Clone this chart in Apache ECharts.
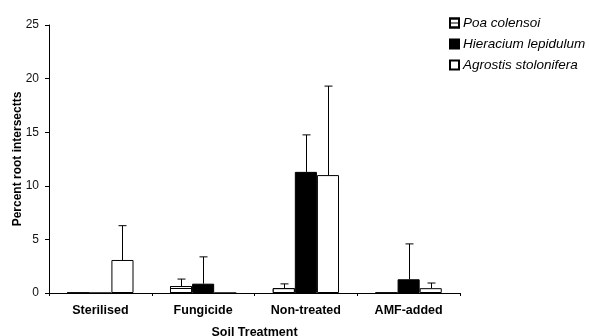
<!DOCTYPE html>
<html>
<head>
<meta charset="utf-8">
<script src="https://cdn.jsdelivr.net/npm/echarts@6/dist/echarts.min.js"></script>
<style>
  html, body { margin: 0; padding: 0; background: #fff; }
  #chart { width: 589px; height: 336px; }
</style>
</head>
<body>
<div id="chart"></div>
<script>
const categories = ['Sterilised', 'Fungicide', 'Non-treated', 'AMF-added'];
const seriesNames = ['Poa colensoi', 'Hieracium lepidulum', 'Agrostis stolonifera'];
const poaValues = [0, 0.65, 0.45, 0];
const poaErrors = [0, 0.65, 0.4, 0];
const hieraciumValues = [0, 0.87, 11.3, 1.28];
const hieraciumErrors = [0, 2.5, 3.45, 3.3];
const agrostisValues = [3.08, 0, 11.0, 0.45];
const agrostisErrors = [3.2, 0, 8.3, 0.48];
const yTicks = [0, 5, 10, 15, 20, 25];

const FONT = '"Liberation Sans", Arial, sans-serif';
const BAR_FRAC = 0.215;

/**
 * 에러바 (위쪽만) 그리기
 */
function errorSeries(values, errors, idx) {
    return {
        type: 'custom',
        silent: true,
        z: 5,
        data: values.map((v, i) => [i, v, errors[i]]),
        renderItem: function (params, api) {
            const err = api.value(2);
            if (!err) return null;
            const band = api.size([1, 0])[0];
            const bw = band * BAR_FRAC;
            const base = api.coord([api.value(0), api.value(1)]);
            const top = api.coord([api.value(0), api.value(1) + err]);
            const x = Math.round(base[0] + (idx - 1) * bw) + 0.5;
            const style = { stroke: '#000', lineWidth: 1 };
            return {
                type: 'group',
                children: [
                    { type: 'line', shape: { x1: x, y1: base[1], x2: x, y2: top[1] }, style: style },
                    { type: 'line', shape: { x1: x - 4, y1: top[1], x2: x + 4, y2: top[1] }, style: style }
                ]
            };
        }
    };
}

function initChart() {
    const chart = echarts.init(document.getElementById('chart'));
    const barBase = {
        type: 'bar',
        barWidth: (BAR_FRAC * 100) + '%',
        barGap: '0%'
    };
    const option = {
        animation: false,
        textStyle: { fontFamily: FONT },
        grid: { left: 49, right: 129, top: 25, bottom: 43, containLabel: false, outerBoundsMode: 'none' },
        legend: {
            orient: 'vertical',
            left: 444,
            top: 10,
            icon: 'rect',
            itemWidth: 9,
            itemHeight: 9,
            itemGap: 5,
            textStyle: { fontFamily: FONT, fontSize: 13.5, fontStyle: 'italic', color: '#000', padding: [0, 0, 0, -1], lineHeight: 16 },
            data: seriesNames
        },
        xAxis: {
            type: 'category',
            data: categories,
            name: 'Soil Treatment',
            nameLocation: 'middle',
            nameGap: 33,
            nameMoveOverlap: false,
            nameTextStyle: { fontFamily: FONT, fontSize: 12.5, fontWeight: 'bold', color: '#000' },
            axisLine: { lineStyle: { color: '#000', width: 1 } },
            axisTick: { show: true, length: 3, lineStyle: { color: '#000' } },
            axisLabel: { fontFamily: FONT, fontSize: 12.5, fontWeight: 'bold', color: '#000', margin: 11 }
        },
        yAxis: {
            type: 'value',
            min: 0,
            max: 25,
            interval: 5,
            name: 'Percent root intersectts',
            nameLocation: 'middle',
            nameGap: 25,
            nameMoveOverlap: false,
            nameTextStyle: { fontFamily: FONT, fontSize: 12, fontWeight: 'bold', color: '#000' },
            axisLine: { show: true, lineStyle: { color: '#000', width: 1 } },
            axisTick: { show: true, length: 4, lineStyle: { color: '#000' } },
            splitLine: { show: false },
            axisLabel: {
                fontFamily: FONT, fontSize: 12, color: '#111', margin: 10,
                formatter: v => yTicks.includes(v) ? String(v) : ''
            }
        },
        series: [
            Object.assign({}, barBase, {
                name: seriesNames[0],
                data: poaValues,
                itemStyle: {
                    color: '#fff', borderColor: '#000', borderWidth: 1,
                    decal: {
                        symbol: 'rect',
                        symbolSize: 1,
                        dashArrayX: [1, 0],
                        dashArrayY: [1, 3],
                        color: '#000',
                        backgroundColor: '#fff'
                    }
                }
            }),
            Object.assign({}, barBase, {
                name: seriesNames[1],
                data: hieraciumValues,
                itemStyle: { color: '#000', borderColor: '#000', borderWidth: 1 }
            }),
            Object.assign({}, barBase, {
                name: seriesNames[2],
                data: agrostisValues,
                itemStyle: { color: '#fff', borderColor: '#000', borderWidth: 1 }
            }),
            errorSeries(poaValues, poaErrors, 0),
            errorSeries(hieraciumValues, hieraciumErrors, 1),
            errorSeries(agrostisValues, agrostisErrors, 2)
        ]
    };
    chart.setOption(option);
    return chart;
}

document.addEventListener('DOMContentLoaded', function () {
    const chart = initChart();
    window.addEventListener('resize', function () {
        chart.resize();
    });
});
</script>
</body>
</html>
